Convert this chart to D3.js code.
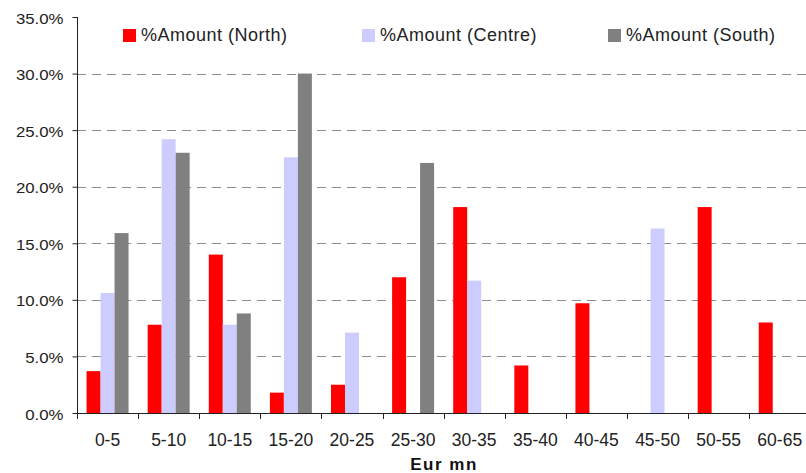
<!DOCTYPE html>
<html>
<head>
<meta charset="utf-8">
<script src="https://cdn.jsdelivr.net/npm/d3@7"></script>
<style>
  html, body { margin: 0; padding: 0; background: #fff; }
  svg { display: block; font-family: "Liberation Sans", Arial, sans-serif; }
</style>
</head>
<body>
<svg id="chart" width="806" height="473"></svg>
<script>
// Size bands (Eur mn) and share of amount per region, in percent
const categories = ["0-5", "5-10", "10-15", "15-20", "20-25", "25-30", "30-35", "35-40", "40-45", "45-50", "50-55", "60-65"];
const north  = [3.7, 7.8, 14.0, 1.8, 2.5, 12.0, 18.2, 4.2, 9.7, null, 18.2, 8.0];
const centre = [10.6, 24.2, 7.8, 22.6, 7.1, null, 11.7, null, null, 16.3, null, null];
const south  = [15.9, 23.0, 8.8, 30.0, null, 22.1, null, null, null, null, null, null];
const seriesNames = ["%Amount (North)", "%Amount (Centre)", "%Amount (South)"];
const seriesColors = ["#ff0000", "#ccccff", "#808080"];
const yTicks = [0, 5, 10, 15, 20, 25, 30, 35];
const xTitle = "Eur mn";

const series = [north, centre, south];
const svg = d3.select("#chart");

const plotLeft = 77, plotRight = 810.3, plotTop = 17, plotBottom = 413;

const x0 = d3.scaleBand().domain(categories).range([plotLeft, plotRight]).padding(0);
const bw = x0.bandwidth();
const gw = bw * 0.687;
const x1 = d3.scaleBand().domain(d3.range(series.length))
  .range([(bw - gw) / 2, (bw + gw) / 2]).padding(0);
const y = d3.scaleLinear().domain([0, 35]).range([plotBottom, plotTop]);

// dashed horizontal gridlines
svg.append("g").selectAll("line")
  .data(yTicks.filter(d => d > 0 && d < 35))
  .join("line")
  .attr("x1", plotLeft).attr("x2", 806)
  .attr("y1", d => Math.round(y(d)) + 0.5).attr("y2", d => Math.round(y(d)) + 0.5)
  .attr("stroke", "#8c8c8c").attr("stroke-width", 1)
  .attr("stroke-dasharray", "9,6");

// bars
const barData = [];
categories.forEach((c, i) => {
  series.forEach((s, j) => {
    if (s[i] != null) barData.push({ c, j, v: s[i] });
  });
});
svg.append("g").selectAll("rect")
  .data(barData)
  .join("rect")
  .attr("x", d => x0(d.c) + x1(d.j))
  .attr("width", x1.bandwidth())
  .attr("y", d => y(d.v))
  .attr("height", d => y(0) - y(d.v))
  .attr("fill", d => seriesColors[d.j]);

// y axis
const yAxis = svg.append("g").attr("transform", `translate(${plotLeft + 0.5},0)`)
  .call(d3.axisLeft(y).tickValues(yTicks).tickSize(5).tickFormat(d => d.toFixed(1) + "%"));
yAxis.select(".domain").attr("stroke", "#222").attr("d", `M0,${plotTop}V${plotBottom}`);
yAxis.selectAll(".tick line").attr("stroke", "#222");
yAxis.selectAll(".tick text")
  .attr("x", null).attr("dy", null)
  .attr("transform", "translate(-14,6) scale(1.2,1)")
  .attr("font-size", 14).attr("fill", "#222")
  .attr("font-family", "'Liberation Sans', Arial, sans-serif");

// x axis with ticks at band boundaries
const xg = svg.append("g");
xg.append("line")
  .attr("x1", plotLeft).attr("x2", 806)
  .attr("y1", plotBottom + 0.5).attr("y2", plotBottom + 0.5)
  .attr("stroke", "#222");
const bounds = categories.map(c => x0(c)).concat([plotRight]);
xg.selectAll("line.tick").data(bounds).join("line").attr("class", "tick")
  .attr("x1", d => Math.round(d) + 0.5).attr("x2", d => Math.round(d) + 0.5)
  .attr("y1", plotBottom).attr("y2", plotBottom + 6)
  .attr("stroke", "#222");
xg.selectAll("text").data(categories).join("text")
  .attr("x", d => x0(d) + bw / 2)
  .attr("y", 446)
  .attr("text-anchor", "middle")
  .attr("font-size", 17.5).attr("fill", "#222")
  .text(d => d);

// axis title
svg.append("text")
  .attr("x", 444).attr("y", 470)
  .attr("text-anchor", "middle")
  .attr("font-size", 17).attr("font-weight", "bold")
  .attr("letter-spacing", 1.5)
  .attr("fill", "#111")
  .text(xTitle);

// legend
const legendX = [123, 362, 608];
const lg = svg.append("g");
seriesNames.forEach((name, j) => {
  lg.append("rect")
    .attr("x", legendX[j]).attr("y", 29)
    .attr("width", 13).attr("height", 13)
    .attr("fill", seriesColors[j]);
  lg.append("text")
    .attr("x", legendX[j] + 18).attr("y", 41)
    .attr("font-size", 18).attr("letter-spacing", 0.5)
    .attr("fill", "#222")
    .text(name);
});
</script>
</body>
</html>
